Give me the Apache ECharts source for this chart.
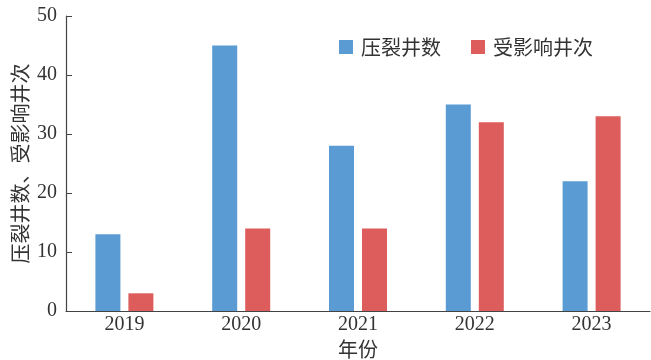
<!DOCTYPE html>
<html><head><meta charset="utf-8">
<script src="https://cdn.jsdelivr.net/npm/echarts@6/dist/echarts.min.js"></script>
<style>html,body{margin:0;padding:0;background:#fff}#c{width:651px;height:360px}</style>
</head><body><div id="c"></div>
<script>
const categories = ['2019','2020','2021','2022','2023'];
const fracWells = [13, 45, 28, 35, 22];
const affectedWells = [3, 14, 14, 32, 33];
const seriesNames = ['压裂井数', '受影响井次'];

const serif = '"Liberation Serif","DejaVu Serif",serif';
const cjk = '"Noto Sans CJK SC",sans-serif';
const chart = echarts.init(document.getElementById('c'), null, {renderer:'canvas'});
chart.setOption({
  animation:false,
  backgroundColor:'#fff',
  grid:{left:66,right:1,top:16,bottom:49,containLabel:false,outerBoundsMode:'none'},
  legend:{
    data:seriesNames, top:32, left:334, itemWidth:14, itemHeight:14, itemGap:30,
    icon:'rect',
    textStyle:{fontFamily:cjk, fontSize:20, color:'#333', padding:[0,0,0,3]}
  },
  xAxis:{
    type:'category', data:categories,
    name:'年份', nameLocation:'middle', nameGap:28, nameMoveOverlap:false,
    nameTextStyle:{fontFamily:cjk, fontSize:20, color:'#333'},
    axisLine:{lineStyle:{color:'#444', width:1.2}},
    axisTick:{inside:true, length:6, lineStyle:{color:'#444'}},
    axisLabel:{fontFamily:serif, fontSize:20, color:'#333', margin:4},
    splitLine:{show:false}
  },
  yAxis:{
    type:'value', min:0, max:50, interval:10,
    name:'压裂井数、受影响井次', nameLocation:'middle', nameGap:36, nameMoveOverlap:false,
    nameTextStyle:{fontFamily:cjk, fontSize:20, color:'#333'},
    axisLine:{show:true, lineStyle:{color:'#444', width:1.2}},
    axisTick:{show:true, inside:true, length:6, lineStyle:{color:'#444'}},
    axisLabel:{fontFamily:serif, fontSize:20, color:'#333', margin:9},
    splitLine:{show:false}
  },
  series:[
    {name:seriesNames[0], type:'bar', data:fracWells, barWidth:25, barGap:'32%',
     itemStyle:{color:'#5B9BD3'}},
    {name:seriesNames[1], type:'bar', data:affectedWells, barWidth:25,
     itemStyle:{color:'#DD5C5C'}}
  ]
});
</script></body></html>
